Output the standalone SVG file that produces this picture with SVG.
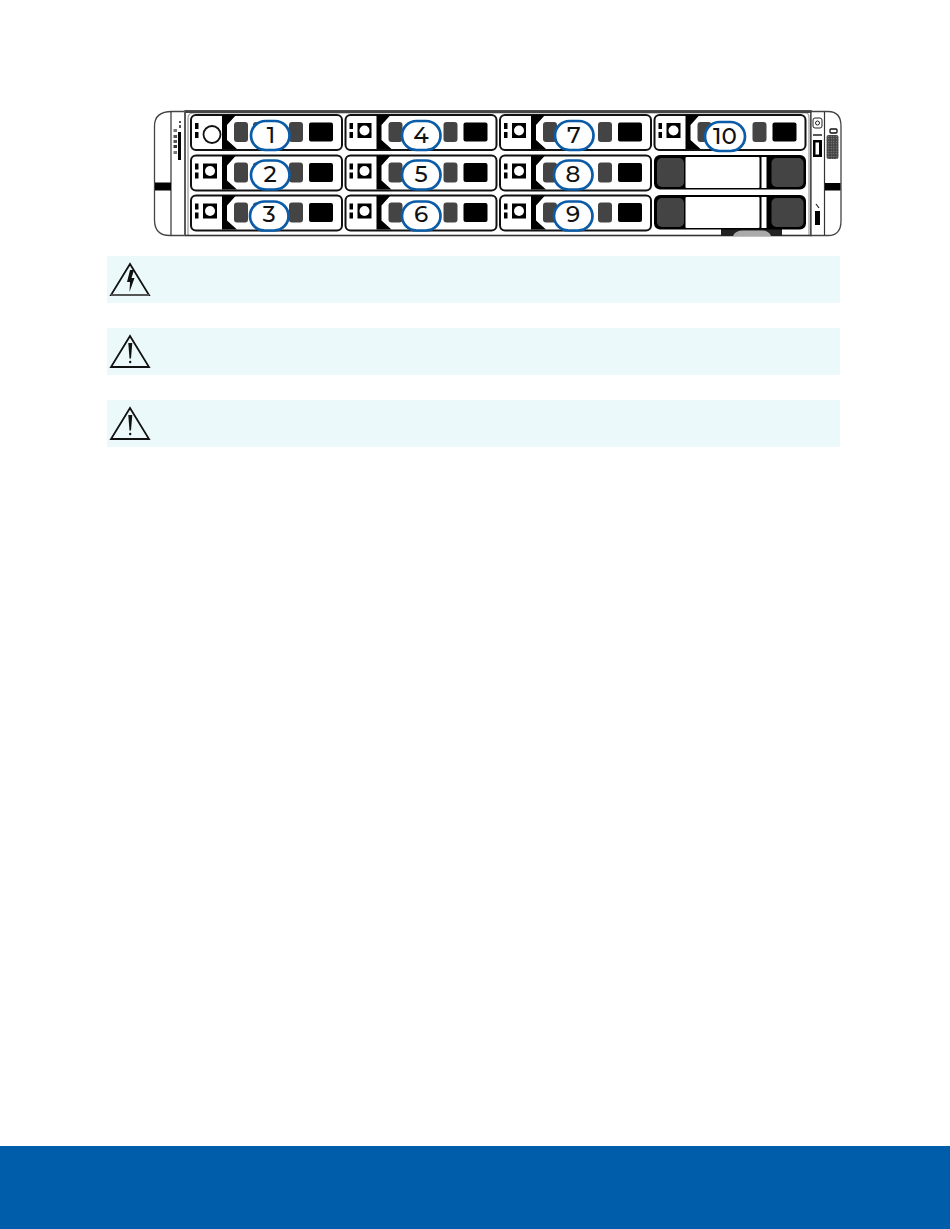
<svg xmlns="http://www.w3.org/2000/svg" width="950" height="1229" viewBox="0 0 950 1229">
<style>
.bk{fill:#000}.dk{fill:#444}.wh{fill:#fff}
.bay{fill:#fff;stroke:#111;stroke-width:2}
.call{fill:#fff;stroke:#0a5ca8;stroke-width:2.700}
.num{font-family:"Montserrat","Noto Sans","Liberation Sans",sans-serif;font-size:23px;font-weight:500;fill:#111;text-anchor:middle}
.warn{fill:#ebf9fa}
.tri{fill:none;stroke:#111;stroke-width:1.800;stroke-linejoin:miter}
.ln{fill:none;stroke:#333;stroke-width:1.200}
</style>
<defs>
<pattern id="pins" width="2.500" height="2.500" patternUnits="userSpaceOnUse"><rect width="2.500" height="2.500" fill="#444"/><rect x="0.800" y="0.800" width="1" height="1" fill="#999"/></pattern>
<g id="drive">
<rect class="bay" x="1" y="1" width="151" height="35" rx="5"/>
<path class="bk" d="M32 1H46L37 11V26L47 35H32Z"/>
<rect class="dk" x="44" y="8" width="14" height="20" rx="3"/>
<rect class="dk" x="63" y="8" width="15" height="20" rx="3"/>
<rect class="dk" x="99" y="8" width="14" height="20" rx="3"/>
<rect class="bk" x="119" y="8.500" width="24" height="19" rx="2"/>
<rect class="bk" x="5" y="9" width="3.500" height="6"/>
<rect class="bk" x="5" y="18" width="3.500" height="6"/>
<rect class="bk" x="13" y="9" width="14" height="15"/>
<circle class="wh" cx="20" cy="16.500" r="5"/>
</g>
<g id="blank">
<rect class="bk" x="0.500" y="0.500" width="152" height="34.500" rx="6"/>
<rect class="dk" x="3.500" y="3.500" width="27" height="29" rx="5"/>
<rect class="wh" x="32" y="2.500" width="74" height="31" rx="1"/>
<rect class="wh" x="108" y="2.500" width="5" height="31"/>
<rect class="dk" x="118" y="3.500" width="32" height="29" rx="5"/>
</g>
</defs>
<rect width="950" height="1229" fill="#fff"/>
<g id="chassis">
<path d="M184 111.500H172Q154.500 111.500 154.500 126V220Q154.500 235.500 170 235.500H184" fill="#fff" stroke="#444" stroke-width="1.300"/>
<path d="M171 111.500V235.500" class="ln"/>
<rect x="155" y="182.500" width="16" height="8" class="bk"/>
<rect x="178" y="132" width="3" height="28" class="bk"/>
<rect x="179" y="121" width="2" height="2" fill="#555"/>
<rect x="179" y="125" width="2" height="3" fill="#555"/>
<rect x="173.500" y="129" width="3.500" height="3" fill="#777"/>
<rect x="173.500" y="135" width="3.500" height="3" fill="#555"/>
<rect x="173.500" y="140" width="3.500" height="3" fill="#555"/>
<rect x="173.500" y="145" width="3.500" height="3" fill="#333"/>
<rect x="173.500" y="151" width="3.500" height="3" fill="#777"/>
<rect x="185" y="111" width="626" height="124.500" fill="#fff" stroke="#333" stroke-width="1.600"/>
<path d="M188 235V118Q188 113 194 113H806Q809 113 809 118V235" class="ln" stroke-opacity="0.500"/>
<rect x="185" y="110.500" width="626" height="2.500" fill="#444"/>
<rect x="721" y="229" width="61" height="7" fill="#222"/>
<path d="M733 236Q735 230.500 743 230.500H762Q769 230.500 771 236Z" fill="#aaa"/>
<path d="M811 111.500H828Q841 111.500 841 126V221Q841 235.500 828 235.500H811Z" fill="#fff" stroke="#444" stroke-width="1.300"/>
<path d="M824.500 112V235" class="ln"/>
<rect x="825" y="183" width="15.500" height="7.500" class="bk"/>
<rect x="813" y="118" width="9" height="10" rx="2" fill="#fff" stroke="#222"/>
<circle cx="817.500" cy="123" r="2" fill="none" stroke="#222"/>
<path d="M813 135H822" stroke="#222" stroke-width="1.500"/>
<rect x="813" y="140" width="9" height="17" class="bk"/>
<rect x="815.500" y="142.500" width="3.500" height="12" class="wh"/>
<rect x="830" y="129" width="7" height="4" rx="1" fill="#fff" stroke="#111" stroke-width="1.300"/>
<rect x="826.500" y="135" width="12" height="24" rx="2" fill="url(#pins)"/>
<rect x="815" y="211" width="5" height="14" class="bk"/>
<path d="M816 204L819 208" stroke="#222" stroke-width="1.200"/>
</g>
<g id="drive-bays">
<use href="#drive" x="190" y="114"/>
<use href="#drive" x="190" y="154.500"/>
<use href="#drive" x="190" y="194.500"/>
<use href="#drive" x="344.500" y="114"/>
<use href="#drive" x="344.500" y="154.500"/>
<use href="#drive" x="344.500" y="194.500"/>
<use href="#drive" x="499" y="114"/>
<use href="#drive" x="499" y="154.500"/>
<use href="#drive" x="499" y="194.500"/>
<use href="#drive" x="653.500" y="114"/>
<use href="#blank" x="653.500" y="154.500"/>
<use href="#blank" x="653.500" y="194.500"/>
<rect x="202" y="121" width="18" height="20" fill="#fff"/>
<circle cx="212" cy="134.500" r="8.500" fill="#fff" stroke="#111" stroke-width="1.800"/>
</g>
<g id="callout-1"><rect class="call" x="251" y="121" width="38.500" height="29" rx="14.500"/><text class="num" x="271" y="143">1</text></g>
<g id="callout-2"><rect class="call" x="251" y="160.500" width="38.500" height="29" rx="14.500"/><text class="num" x="270" y="182">2</text></g>
<g id="callout-3"><rect class="call" x="250" y="201.500" width="38.500" height="29" rx="14.500"/><text class="num" x="269" y="222">3</text></g>
<g id="callout-4"><rect class="call" x="402" y="121" width="38.500" height="29" rx="14.500"/><text class="num" x="421" y="143">4</text></g>
<g id="callout-5"><rect class="call" x="402" y="160.500" width="38.500" height="29" rx="14.500"/><text class="num" x="421" y="182">5</text></g>
<g id="callout-6"><rect class="call" x="402" y="201.500" width="38.500" height="29" rx="14.500"/><text class="num" x="421" y="222">6</text></g>
<g id="callout-7"><rect class="call" x="555" y="121" width="38.500" height="29" rx="14.500"/><text class="num" x="574" y="143">7</text></g>
<g id="callout-8"><rect class="call" x="554" y="160.500" width="38.500" height="29" rx="14.500"/><text class="num" x="573" y="182">8</text></g>
<g id="callout-9"><rect class="call" x="554" y="201.500" width="38.500" height="29" rx="14.500"/><text class="num" x="573" y="222">9</text></g>
<g id="callout-10"><rect class="call" x="705" y="122" width="40" height="29" rx="14.500"/><text class="num" x="725" y="144">10</text></g>
<g id="warning-1">
<rect class="warn" x="107" y="256" width="733" height="47"/>
<path class="tri" d="M130 264L149 295H111Z"/>
<path d="M111 295H149" stroke="#555" stroke-width="1.800"/>
<path d="M130 270L127 282H130L129.500 292L134.500 278H131.500L134 270Z" fill="#111"/>
</g>
<g id="warning-2">
<rect class="warn" x="107" y="328" width="733" height="47"/>
<path class="tri" d="M130 336L149 367H111Z"/>
<path d="M128.300 343H132.300L131 358.500H129.500Z" fill="#111"/>
<circle cx="130.200" cy="362" r="1.200" fill="#111"/>
</g>
<g id="warning-3">
<rect class="warn" x="107" y="400" width="733" height="47"/>
<path class="tri" d="M130 408L149 439H111Z"/>
<path d="M128.300 415H132.300L131 430.500H129.500Z" fill="#111"/>
<circle cx="130.200" cy="434" r="1.200" fill="#111"/>
</g>
<rect id="footer" x="0" y="1146" width="950" height="83" fill="#005daa"/>
</svg>
